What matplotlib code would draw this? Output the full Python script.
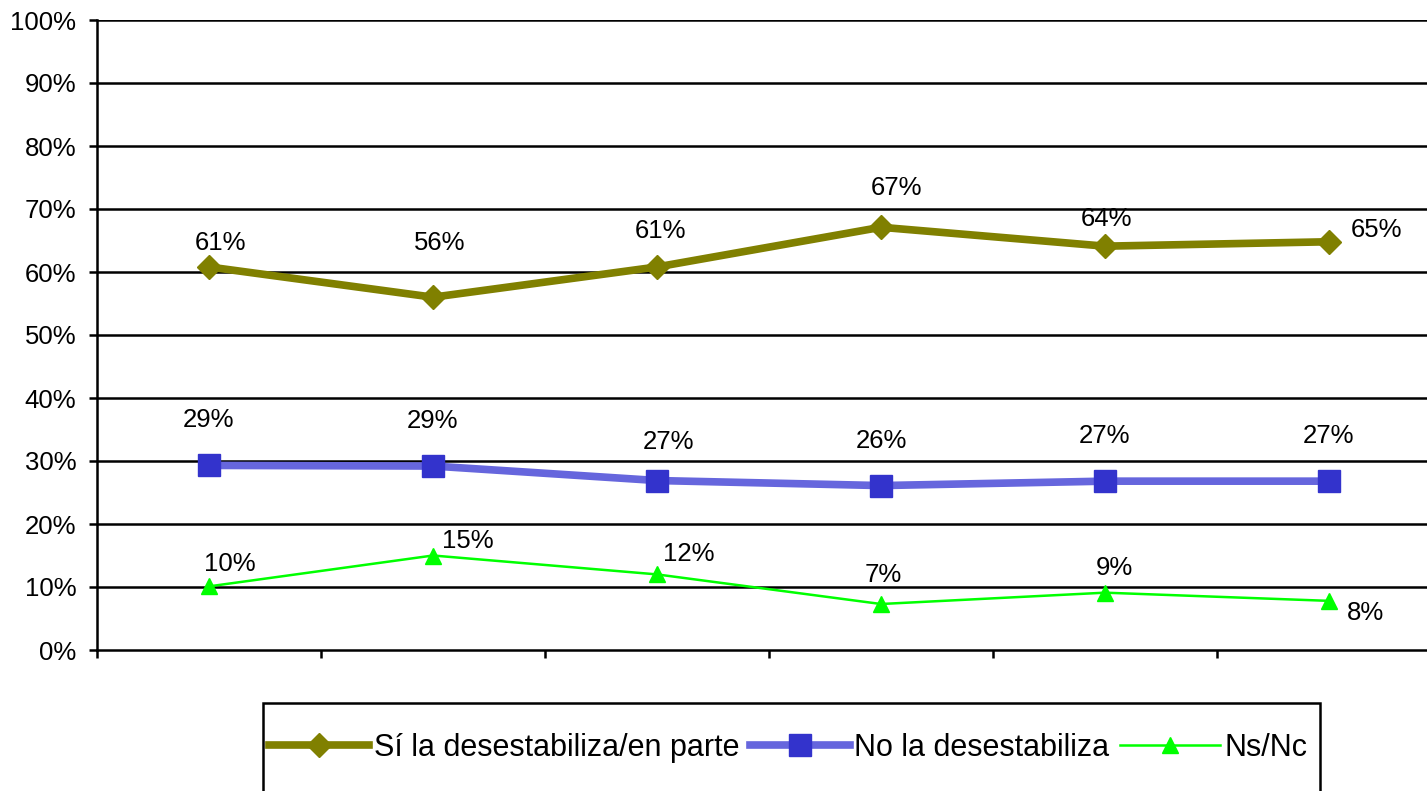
import numpy as np
import matplotlib
matplotlib.use("Agg")
import matplotlib.pyplot as plt
from matplotlib.patches import Rectangle

plt.rcParams['font.family'] = ['Liberation Sans', 'DejaVu Sans']

# data
categories = [1, 2, 3, 4, 5, 6]
si = [60.8, 56.0, 60.8, 67.1, 64.1, 64.8]
no = [29.3, 29.2, 26.9, 26.1, 26.8, 26.8]
ns = [10.1, 15.0, 12.0, 7.3, 9.1, 7.8]
names = ["Sí la desestabiliza/en parte", "No la desestabiliza", "Ns/Nc"]

# label offsets in pixels (dx, dy) relative to each point
off_si = [(12, 24), (7, 54), (4, 36), (16, 39), (2, 27), (48, 12)]
off_no = [(0, 45), (0, 45), (11, 39), (0, 45), (0, 45), (0, 45)]
off_ns = [(21, 22), (35, 14), (32, 20), (2, 29), (9, 25), (36, -12)]

W, H = 1427, 791
fig = plt.figure(figsize=(W / 100, H / 100), dpi=100)
ax = fig.add_axes([97 / W, 1 - 650 / H, (1441 - 97) / W, 630 / H])

ax.set_xlim(0.5, 6.5)
ax.set_ylim(0, 100)

# gridlines
for v in range(10, 101, 10):
    ax.axhline(v, color='black', lw=1.8, zorder=1)

l1, = ax.plot(categories, si, color='#808000', lw=5.5, marker='D', markersize=12.5,
              markerfacecolor='#808000', markeredgecolor='#808000', zorder=3,
              solid_joinstyle='round', label=names[0])
l2, = ax.plot(categories, no, color='#6666DD', lw=5.5, marker='s', markersize=16,
              markerfacecolor='#3333CC', markeredgecolor='#3333CC', zorder=3,
              label=names[1])
l3, = ax.plot(categories, ns, color='#00FF00', lw=1.8, marker='^', markersize=11,
              markerfacecolor='#00FF00', markeredgecolor='#00FF00', zorder=3,
              label=names[2])

for vals, offs in [(si, off_si), (no, off_no), (ns, off_ns)]:
    for x, v, (dx, dy) in zip(categories, vals, offs):
        ax.annotate(f"{v:.0f}%", (x, v), xytext=(dx, dy), textcoords='offset pixels',
                    ha='center', va='center', fontsize=18.5, zorder=4)

ax.set_yticks(range(0, 101, 10))
ax.set_yticklabels([f"{v}%" for v in range(0, 101, 10)], fontsize=18.5)
ax.set_xticks(np.arange(0.5, 7, 1))
ax.set_xticklabels([])
ax.tick_params(axis='y', length=6, width=1.8, pad=9, direction='out')
ax.tick_params(axis='x', length=6, width=1.8, direction='out')
for s in ['top', 'right']:
    ax.spines[s].set_visible(False)
for s in ['left', 'bottom']:
    ax.spines[s].set_linewidth(1.8)

# legend box running off the bottom of the image
fig.add_artist(Rectangle((263 / W, -0.05), (1320 - 263) / W, 0.05 + 1 - 703 / H,
                         transform=fig.transFigure, fill=False, edgecolor='black', lw=1.8))
fig.legend(handles=[l1, l2, l3], loc='center left', bbox_to_anchor=(269 / W, 1 - 748 / H),
           ncol=3, frameon=False, fontsize=22, handlelength=3.27, handletextpad=0.15,
           columnspacing=0.35, borderpad=0, borderaxespad=0)

fig.savefig("out.png", dpi=100)
